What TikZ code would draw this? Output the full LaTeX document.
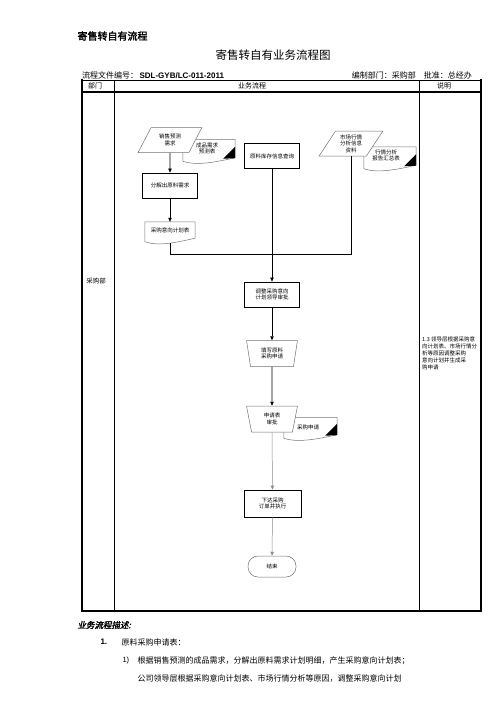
\documentclass[tikz,border=0pt]{standalone}
\usepackage{fontspec}
\setmainfont{Liberation Sans}
\newfontfamily\cjk{Noto Sans CJK SC}
\newfontfamily\cjkbf[FakeBold=2]{Noto Sans CJK SC}
\newfontfamily\cjkbi[FakeBold=2,FakeSlant=0.2]{Noto Sans CJK SC}
\usepackage{tikz}
\usetikzlibrary{arrows.meta,positioning,shapes.geometric}

\begin{document}
\begin{tikzpicture}[x=1pt,y=-1pt, font=\cjk,
    >={Triangle[length=4pt,width=3.4pt]},
    tiny/.style={font=\cjk\fontsize{5.5}{6.5}\selectfont},
    box/.style={tiny, draw, line width=0.8pt, minimum width=55pt, minimum height=25pt, inner sep=1pt, align=center},
    datain/.style={tiny, draw=black!55, fill=white, line width=0.5pt, trapezium, trapezium left angle=57,
        trapezium right angle=123, trapezium stretches=true, minimum width=64pt, minimum height=25pt,
        inner sep=0pt, align=center},
    manual/.style={tiny, draw=black!55, fill=white, line width=0.5pt, trapezium, trapezium angle=80,
        shape border rotate=180, trapezium stretches=true, minimum width=51pt, minimum height=26pt,
        inner sep=0pt, align=center},
    doc/.style={minimum width=52pt, minimum height=23pt, inner sep=1pt},
    doctext/.style={tiny, inner sep=0pt, align=center},
    docline/.style={draw=black!55, line width=0.5pt},
    term/.style={tiny, draw=black!55, line width=0.5pt, rounded corners=10pt, minimum width=48pt, minimum height=21pt},
    flow/.style={->, line width=0.6pt},
    grayflow/.style={->, line width=0.5pt, black!45},
    thickrule/.style={line width=1.4pt},
    thinrule/.style={line width=0.7pt}]
\useasboundingbox (0,0) rectangle (496,702);

% heading
\node[anchor=west, font=\cjkbf\fontsize{10}{12}\selectfont] (head) at (74,36) {寄售转自有流程};
\node[font=\cjk\fontsize{11.5}{13}\selectfont] (title) at (273,55) {寄售转自有业务流程图};
\node[anchor=west, font=\cjk\fontsize{8}{9}\selectfont, inner sep=0pt] (docno) at (82,75)
  {流程文件编号：\,{\fontspec{Liberation Sans}\bfseries SDL-GYB/LC-011-2011}};
\node[anchor=east, font=\cjk\fontsize{8}{9}\selectfont, inner sep=0pt] (owner) at (472,75) {编制部门：采购部　批准：总经办};

% table
\draw[thinrule] (82,80) -- (481,80);
\draw[thickrule] (82,92) -- (481,92);
\draw[thickrule] (82,79.3) -- (82,611) -- (481,611) -- (481,79.3);
\draw[thinrule] (114,80) -- (114,611);
\draw[thinrule] (419,80) -- (419,611);
\node[font=\cjk\fontsize{7}{8}\selectfont] (hdept) at (95,86) {部门};
\node[font=\cjk\fontsize{7}{8}\selectfont] (hflow) at (252,86) {业务流程};
\node[font=\cjk\fontsize{7}{8}\selectfont] (hnote) at (444,86) {说明};
\node[font=\cjk\fontsize{6.5}{7.5}\selectfont] (dept) at (96,281) {采购部};
\node[anchor=north west, align=left, inner sep=0pt, font=\cjk\fontsize{5.5}{7}\selectfont] (note) at (422,337)
  {1.3 领导层根据采购意\\向计划表、市场行情分\\析等原因调整采购\\意向计划并生成采\\购申请};

% documents first, inputs lie over them
\node[doc] (d2) at (209,151) {};
\node[doc] (d3) at (390,158.5) {};
\node[doc, minimum height=22pt, minimum width=53pt] (d4) at (310.5,428.5) {};
\node[doc, minimum width=50pt, minimum height=21pt] (d1) at (170,232.5) {};
\foreach \d in {d1,d2,d3,d4}
  \draw[docline] ([yshift=1.5pt]\d.south west) -- (\d.north west) -- (\d.north east) -- ([yshift=5pt]\d.south east)
    .. controls +(-18pt,-4pt) and +(14pt,-5pt) .. ([yshift=1.5pt]\d.south west);
\foreach \d in {d2,d3,d4}
  \fill ([yshift=4.5pt]\d.south east) -- ([yshift=16pt]\d.south east) -- ([xshift=-12pt,yshift=4pt]\d.south east) -- cycle;
\node[doctext] (d1text) at ([yshift=2pt]d1.center) {采购意向计划表};
\node[doctext] (d2text) at ([xshift=-2pt,yshift=2.5pt]d2.center) {成品需求\\预测表};
\node[doctext] (d3text) at ([xshift=-4pt,yshift=3pt]d3.center) {行情分析\\报告汇总表};
\node[doctext] (d4text) at ([xshift=-2.5pt,yshift=1.5pt]d4.center) {采购申请};

\node[datain] (p1) at (170,140) {销售预测\\需求};
\node[datain] (p2) at (351,143.5) {市场行情\\分析信息\\资料};
\node[box] (r2) at (272,156) {原料库存信息查询};
\node[box] (r1) at (170,185.5) {分解出原料需求};
\coordinate (j) at (272,254);
\node[box] (r3) at (272,294.5) {调整采购意向\\计划领导审批};
\node[manual] (t1) at (272,353.5) {填写原料\\采购申请};
\node[manual] (t2) at (272,419) {申请表\\审批};
\node[box, minimum width=57pt, minimum height=27pt] (r4) at (272.5,503.5) {下达采购\\订单并执行};
\node[term] (e) at (272,566.5) {结束};

\draw[flow] (p1) -- (r1);
\draw[flow] (r1) -- (d1);
\draw[line width=0.6pt] (d1) |- (j);
\draw[line width=0.6pt] (p2) |- (j);
\draw[flow] (r2) -- (r3);
\draw[flow] (r3) -- (t1);
\draw[flow] (t1) -- (t2);
\draw[grayflow] (t2) -- (r4);
\draw[grayflow] (r4) -- (e);

% description
\node[anchor=west, font=\cjkbi\fontsize{8.5}{10}\selectfont] (desc) at (74,625) {业务流程描述:};
\node[anchor=west, font=\bfseries\fontsize{8}{9}\selectfont] (n1) at (97,642) {1.};
\node[anchor=west, font=\cjk\fontsize{8}{9}\selectfont] (s1) at (118,642) {原料采购申请表：};
\node[anchor=west, font=\fontsize{7.5}{9}\selectfont] (n11) at (119,661) {1)};
\node[anchor=west, font=\cjk\fontsize{8}{9}\selectfont] (l1) at (134,661) {根据销售预测的成品需求，分解出原料需求计划明细，产生采购意向计划表；};
\node[anchor=west, font=\cjk\fontsize{8}{9}\selectfont] (l2) at (134,679) {公司领导层根据采购意向计划表、市场行情分析等原因，调整采购意向计划};
\end{tikzpicture}
\end{document}
